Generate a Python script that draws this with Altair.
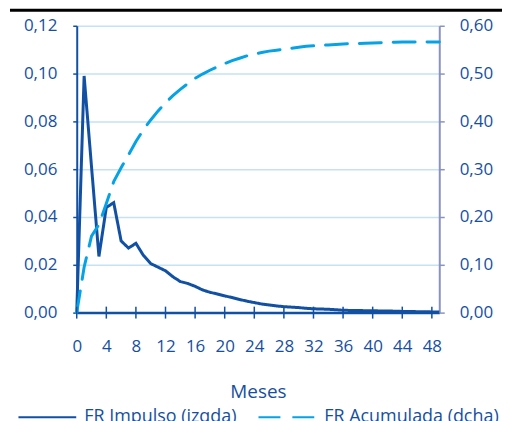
import altair as alt
import pandas as pd

# ---- data ----
meses = list(range(0, 50))
impulso = [0.000, 0.099, 0.061, 0.0235, 0.044, 0.046, 0.030, 0.027, 0.029, 0.024,
           0.0205, 0.019, 0.0175, 0.015, 0.013, 0.0122, 0.011, 0.0095, 0.0085, 0.0078,
           0.0070, 0.0063, 0.0055, 0.0048, 0.0042, 0.0036, 0.0032, 0.0028, 0.0025, 0.0023,
           0.0021, 0.0018, 0.0016, 0.0015, 0.0014, 0.0012, 0.0010, 0.0009, 0.0009, 0.0008,
           0.0008, 0.0007, 0.0007, 0.0006, 0.0005, 0.0005, 0.0004, 0.0004, 0.0003, 0.0003]
acumulada = [0.000, 0.095, 0.160, 0.184, 0.228, 0.274, 0.303, 0.330, 0.358, 0.382,
             0.403, 0.422, 0.439, 0.454, 0.467, 0.479, 0.490, 0.499, 0.507, 0.514,
             0.521, 0.527, 0.532, 0.537, 0.541, 0.544, 0.547, 0.549, 0.551, 0.553,
             0.555, 0.557, 0.558, 0.559, 0.560, 0.561, 0.562, 0.5625, 0.563, 0.5635,
             0.564, 0.5645, 0.565, 0.5655, 0.566, 0.566, 0.566, 0.566, 0.566, 0.566]
series = ["FR Impulso (izqda)", "FR Acumulada (dcha)"]
x_ticks = [0, 4, 8, 12, 16, 20, 24, 28, 32, 36, 40, 44, 48]
y_left_ticks = [0.00, 0.02, 0.04, 0.06, 0.08, 0.10, 0.12]
y_right_ticks = [0.00, 0.10, 0.20, 0.30, 0.40, 0.50, 0.60]

DARK = "#1150a3"
LIGHT = "#05a2e6"
TEXT = "#164f9f"
GRID = "#c4e2f3"
RAXIS = "#8a93bf"
FONT = "Open Sans"

W, H = 364, 288
SYM = 58  # legend symbol length

df = pd.DataFrame({
    "mes": meses * 2,
    "serie": [series[0]] * len(meses) + [series[1]] * len(meses),
    "valor": impulso + acumulada,
})
ticks_df = pd.DataFrame({"mes": x_ticks})

legend = alt.Legend(
    title=None, orient="none", legendX=-59.5, legendY=417 - 25 - SYM / 2,
    direction="horizontal", columns=2, symbolType="stroke", symbolSize=SYM * SYM,
    symbolStrokeWidth=2, labelFontSize=18, labelFont=FONT, labelColor=TEXT,
    labelOffset=7, columnPadding=17, labelLimit=400,
)
color = alt.Color("serie:N", scale=alt.Scale(domain=series, range=[DARK, LIGHT]), legend=legend)
dash = alt.StrokeDash("serie:N", scale=alt.Scale(domain=series, range=[[1, 0], [22, 12]]), legend=legend)

x_enc = alt.X(
    "mes:Q",
    scale=alt.Scale(domain=[0, 49], nice=False, zero=False),
    axis=alt.Axis(
        values=x_ticks, ticks=False, grid=False, labelPadding=26, labelFlush=False,
        labelOverlap=False, labelFontSize=17, labelFont=FONT, labelColor=TEXT,
        domainColor=DARK, domainWidth=2.5, title="Meses", titleFontSize=19,
        titleFont=FONT, titleFontWeight="normal", titleColor=TEXT, titlePadding=28,
    ),
)

label_expr = "replace(format(datum.value, '.2f'), '.', ',')"

base = alt.Chart(df)

imp = base.transform_filter(alt.datum.serie == series[0]).mark_line(
    strokeWidth=3, strokeJoin="miter"
).encode(
    x=x_enc,
    y=alt.Y(
        "valor:Q",
        scale=alt.Scale(domain=[0, 0.12], nice=False),
        axis=alt.Axis(
            orient="left", values=y_left_ticks, labelExpr=label_expr, title=None,
            tickSize=4, tickColor=DARK, tickWidth=1.5, labelPadding=16,
            labelFontSize=17, labelFont=FONT, labelColor=TEXT,
            domainColor=DARK, domainWidth=2, grid=True, gridColor=GRID, gridWidth=1.5,
        ),
    ),
    color=color,
    strokeDash=dash,
)

acu = base.transform_filter(alt.datum.serie == series[1]).mark_line(
    strokeWidth=3, strokeCap="round"
).encode(
    x=x_enc,
    y=alt.Y(
        "valor:Q",
        scale=alt.Scale(domain=[0, 0.60], nice=False),
        axis=alt.Axis(
            orient="right", values=y_right_ticks, labelExpr=label_expr, title=None,
            tickSize=5, tickColor=RAXIS, tickWidth=1.5, labelPadding=15,
            labelFontSize=17, labelFont=FONT, labelColor=TEXT,
            domainColor=RAXIS, domainWidth=2, grid=False,
        ),
    ),
    color=color,
    strokeDash=dash,
)

xticks = alt.Chart(ticks_df).mark_rule(color=DARK, strokeWidth=1.5).encode(
    x=x_enc,
    y=alt.value(H - 6),
    y2=alt.value(H + 6),
)

topline = alt.Chart(alt.Data(values=[{}])).mark_rule(color="black", strokeWidth=3).encode(
    x=alt.value(-67),
    x2=alt.value(427),
    y=alt.value(-15.5),
)

chart = alt.layer(imp, acu, xticks, topline).resolve_scale(
    y="independent"
).properties(
    width=W, height=H, padding=0,
).configure_view(stroke=None)

chart.save("out.html", embed_options={"renderer": "svg", "actions": False})
